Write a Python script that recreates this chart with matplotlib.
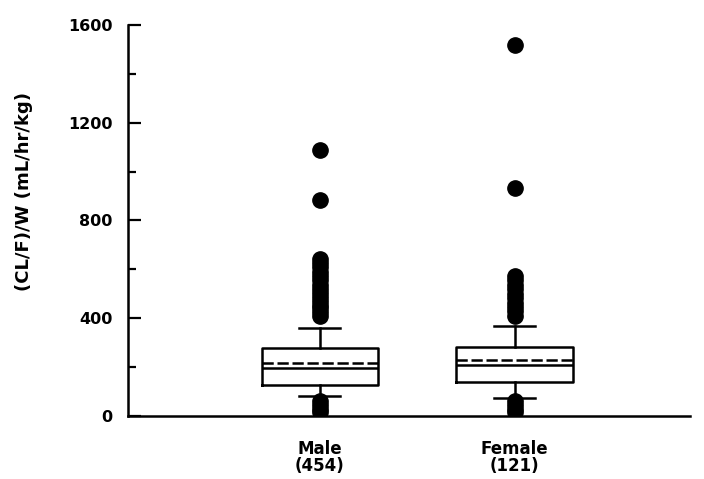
import matplotlib
matplotlib.use("Agg")
import matplotlib.pyplot as plt
from matplotlib.ticker import MultipleLocator

# ---- box statistics, (CL/F)/W in mL/hr/kg ----
groups = ["Male\n(454)", "Female\n(121)"]
q1 = [127, 139]
median = [196, 209]
q3 = [278, 282]
mean = [217, 229]
whisker_lo = [82, 74]
whisker_hi = [360, 368]
outliers_male = [1088, 884, 642, 625, 608, 590, 572, 555, 538, 520, 503,
                 486, 470, 455, 440, 425, 410, 60, 45, 30, 18]
outliers_female = [1518, 933, 573, 555, 537, 519, 500, 482, 464, 446,
                   428, 410, 60, 45, 30, 15]

stats = []
for i, lab in enumerate(groups):
    stats.append(dict(label=lab, q1=q1[i], med=median[i], q3=q3[i],
                      mean=mean[i], whislo=whisker_lo[i], whishi=whisker_hi[i],
                      fliers=[outliers_male, outliers_female][i]))

fig = plt.figure(figsize=(7.04, 4.79), dpi=100)
ax = fig.add_axes([0.182, 0.1315, 0.798, 0.8165])

lw = 1.8
ax.bxp(stats, positions=[1, 2], widths=0.6, showmeans=True, meanline=True,
       capwidths=0.21,
       boxprops=dict(color="black", linewidth=lw),
       medianprops=dict(color="black", linewidth=lw),
       meanprops=dict(color="black", linewidth=lw, linestyle=(0, (4.5, 1.5))),
       whiskerprops=dict(color="black", linewidth=lw),
       capprops=dict(color="black", linewidth=lw),
       flierprops=dict(marker="o", markerfacecolor="black",
                       markeredgecolor="black", markersize=11))

ax.set_xlim(0.015, 2.9)
ax.set_ylim(0, 1600)
ax.yaxis.set_major_locator(MultipleLocator(400))
ax.yaxis.set_minor_locator(MultipleLocator(200))
ax.tick_params(axis="y", which="major", direction="in", length=9, width=1.6,
               labelsize=11.5, pad=11)
ax.tick_params(axis="y", which="minor", direction="in", length=6, width=1.6)
ax.tick_params(axis="x", length=0, labelsize=12, pad=17)
for lab in ax.get_yticklabels() + ax.get_xticklabels():
    lab.set_fontweight("bold")
for lab in ax.get_xticklabels():
    lab.set_linespacing(0.95)

ax.spines["top"].set_visible(False)
ax.spines["right"].set_visible(False)
ax.spines["left"].set_linewidth(lw)
ax.spines["bottom"].set_linewidth(lw)

ax.set_ylabel("(CL/F)/W (mL/hr/kg)", fontsize=13, fontweight="bold")
ax.yaxis.set_label_coords(-0.17, 0.575)

fig.savefig("out.png", dpi=100)
